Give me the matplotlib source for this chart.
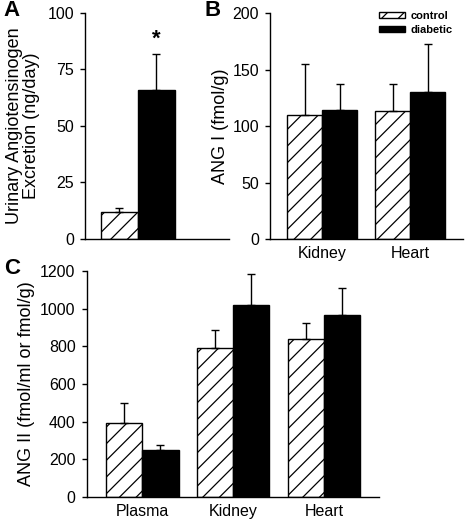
import matplotlib.pyplot as plt
import numpy as np

plt.rcParams.update({
    'font.family': ['Liberation Sans', 'DejaVu Sans'],
    'font.size': 11,
    'hatch.linewidth': 0.9,
    'axes.linewidth': 1.0,
})

# --- dados ---
groups = ["control", "diabetic"]

# A: urinary angiotensinogen (ng/day)
a_mean = [11.9, 66.0]
a_err = [1.6, 15.8]

# B: ANG I (fmol/g)
b_tissues = ["Kidney", "Heart"]
b_control = [110, 113]
b_control_err = [45, 24]
b_diabetic = [114, 130]
b_diabetic_err = [23, 43]

# C: ANG II (fmol/ml or fmol/g)
c_tissues = ["Plasma", "Kidney", "Heart"]
c_control = [391, 790, 837]
c_control_err = [106, 98, 85]
c_diabetic = [248, 1019, 968]
c_diabetic_err = [26, 165, 143]

W = 0.40
STYLE = {
    "control": dict(color="white", edgecolor="black", hatch="//", linewidth=1.0),
    "diabetic": dict(color="black", edgecolor="black", linewidth=1.0),
}
ERR_KW = dict(ecolor="black", elinewidth=1.0, capthick=1.0, capsize=3)
YLAB = 13


def style_ax(ax):
    for s in ["top", "right"]:
        ax.spines[s].set_visible(False)
    ax.tick_params(axis="y", direction="out", length=3.5, width=1, labelsize=11.5, pad=4.5)
    ax.tick_params(axis="x", length=0, labelsize=11.5, pad=5)


def grouped(ax, cats, ctrl, ctrl_e, diab, diab_e):
    x = np.arange(len(cats))
    zeros = np.zeros(len(cats))
    ax.bar(x - W / 2, ctrl, W, **STYLE["control"], label="control")
    ax.errorbar(x - W / 2, ctrl, yerr=[zeros, ctrl_e], fmt="none", **ERR_KW)
    ax.bar(x + W / 2, diab, W, **STYLE["diabetic"], label="diabetic")
    ax.errorbar(x + W / 2, diab, yerr=[zeros, diab_e], fmt="none", **ERR_KW)
    ax.set_xticks(x)
    ax.set_xticklabels(cats)


fig = plt.figure(figsize=(4.66, 5.2), dpi=100)

# --- painel A ---
axA = fig.add_axes([85 / 466, 1 - 239 / 520, 144 / 466, 226 / 520])
wA = 0.35
xa = np.array([-wA / 2, wA / 2])
axA.bar(xa[0], a_mean[0], wA, **STYLE["control"])
axA.bar(xa[1], a_mean[1], wA, **STYLE["diabetic"])
axA.errorbar(xa, a_mean, yerr=[[0, 0], a_err], fmt="none", **ERR_KW)
axA.text(xa[1], a_mean[1] + a_err[1] + 2, "*", ha="center", va="bottom",
         fontsize=16, fontweight="bold")
axA.set_xlim(-0.501, 0.861)
axA.set_ylim(0, 100)
axA.set_yticks([0, 25, 50, 75, 100])
axA.set_xticks([])
axA.set_ylabel("Urinary Angiotensinogen\nExcretion (ng/day)", fontsize=YLAB,
               labelpad=5, linespacing=1.05)
style_ax(axA)

# --- painel B ---
axB = fig.add_axes([270 / 466, 1 - 239 / 520, (463 - 270) / 466, 225.7 / 520])
grouped(axB, b_tissues, b_control, b_control_err, b_diabetic, b_diabetic_err)
axB.set_xlim(-0.593, 1.6)
axB.set_ylim(0, 200)
axB.set_yticks([0, 50, 100, 150, 200])
axB.set_ylabel("ANG I (fmol/g)", fontsize=YLAB, labelpad=2)
style_ax(axB)
axB.legend(loc="upper right", bbox_to_anchor=(1.0, 1.055), frameon=False,
           handlelength=2.4, handleheight=0.45, handletextpad=0.5,
           labelspacing=0.4, prop={"weight": "bold", "size": 8})

# --- painel C ---
axC = fig.add_axes([86.7 / 466, 1 - 497 / 520, (379 - 86.7) / 466, 226 / 520])
grouped(axC, c_tissues, c_control, c_control_err, c_diabetic, c_diabetic_err)
axC.set_xlim(-0.612, 2.607)
axC.set_ylim(0, 1200)
axC.set_yticks(range(0, 1201, 200))
axC.set_ylabel("ANG II (fmol/ml or fmol/g)", fontsize=YLAB, labelpad=4)
style_ax(axC)

# letras dos paineis
fig.text(3 / 466, 1 - 0 / 520, "A", fontsize=16, fontweight="bold", va="top", ha="left")
fig.text(204 / 466, 1 - 0 / 520, "B", fontsize=16, fontweight="bold", va="top", ha="left")
fig.text(4 / 466, 1 - 258 / 520, "C", fontsize=16, fontweight="bold", va="top", ha="left")

fig.savefig("out.png", dpi=100)
